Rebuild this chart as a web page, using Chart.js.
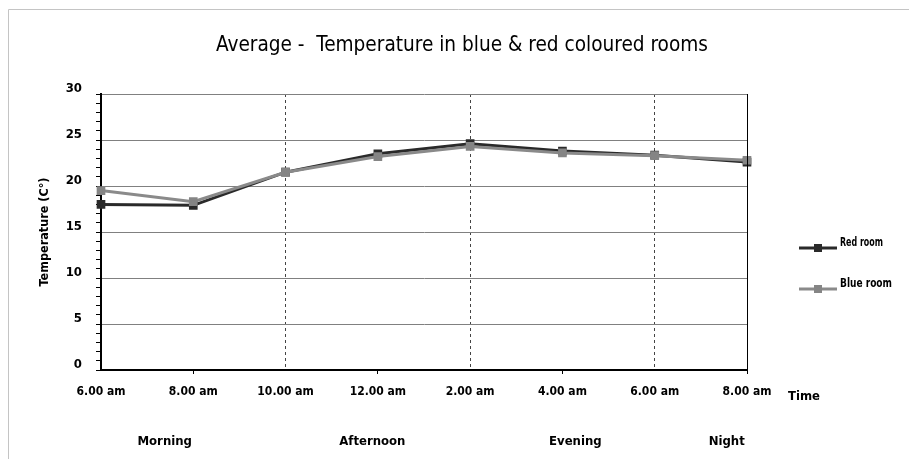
<!DOCTYPE html>
<html>
<head>
<meta charset="utf-8">
<script src="https://cdn.jsdelivr.net/npm/chart.js@4"></script>
<style>
  html, body { margin: 0; padding: 0; background: #fff; }
  #wrap { width: 909px; height: 459px; position: relative; }
</style>
</head>
<body>
<div id="wrap"><canvas id="chart" width="909" height="459"></canvas></div>
<script>
// Time of day readings
const times = ['6.00 am', '8.00 am', '10.00 am', '12.00 am', '2.00 am', '4.00 am', '6.00 am', '8.00 am'];
// Average temperature (°C) per room
const redRoom  = [18.0, 17.9, 21.5, 23.5, 24.6, 23.8, 23.35, 22.6];
const blueRoom = [19.5, 18.3, 21.5, 23.2, 24.3, 23.6, 23.3, 22.8];
// Parts of the day written under the axis
const periods = ['Morning', 'Afternoon', 'Evening', 'Night'];

const FONT = '"DejaVu Sans Condensed", "Liberation Sans", sans-serif';

// Extra labels: chart border, title, period names, axis caption and legend
const extras = {
  id: 'extras',
  beforeDraw(chart) {
    const ctx = chart.ctx;
    ctx.save();
    ctx.strokeStyle = '#c4c4c4';
    ctx.lineWidth = 1;
    ctx.beginPath();
    ctx.moveTo(8.5, 459);
    ctx.lineTo(8.5, 9.5);
    ctx.lineTo(909, 9.5);
    ctx.stroke();
    ctx.restore();
  },
  afterDraw(chart, args, opts) {
    const ctx = chart.ctx;
    const x = chart.scales.x;
    const area = chart.chartArea;
    ctx.save();
    ctx.fillStyle = '#000';
    ctx.textBaseline = 'middle';

    // title
    ctx.textAlign = 'center';
    ctx.font = '22px ' + FONT;
    ctx.fillText('Average -  Temperature in blue & red coloured rooms', 462, 45, 492);

    // parts of the day
    ctx.font = 'bold 13px ' + FONT;
    periods.forEach((p, i) => {
      ctx.fillText(p, x.getPixelForValue(opts.periodAt[i]), 442);
    });

    // x caption
    ctx.textAlign = 'left';
    ctx.font = 'bold 13px ' + FONT;
    ctx.fillText('Time', area.right + 41, 397, 32);

    // legend
    chart.data.datasets.forEach((ds, i) => {
      const ly = 248 + i * 41;
      const lx = 799;
      ctx.strokeStyle = ds.borderColor;
      ctx.lineWidth = 3;
      ctx.beginPath();
      ctx.moveTo(lx, ly);
      ctx.lineTo(lx + 38, ly);
      ctx.stroke();
      ctx.fillStyle = ds.pointBackgroundColor;
      ctx.fillRect(lx + 19 - 4, ly - 4, 8, 8);
      ctx.fillStyle = '#000';
      ctx.font = 'bold 13px ' + FONT;
      ctx.fillText(ds.label, lx + 41, ly - 5, i === 0 ? 43 : 52);
    });

    // right border of the plot
    ctx.strokeStyle = '#000';
    ctx.lineWidth = 1;
    ctx.beginPath();
    ctx.moveTo(Math.round(area.right) + 0.5, area.top);
    ctx.lineTo(Math.round(area.right) + 0.5, area.bottom);
    ctx.stroke();
    ctx.restore();
  }
};

new Chart(document.getElementById('chart'), {
  type: 'line',
  data: {
    labels: times,
    datasets: [
      {
        label: 'Red room',
        data: redRoom,
        borderColor: '#2a2a2a',
        backgroundColor: '#2a2a2a',
        pointBackgroundColor: '#2a2a2a',
        pointBorderColor: '#2a2a2a',
        borderWidth: 3,
        pointStyle: 'rect',
        pointRadius: 4,
        tension: 0,
        order: 2
      },
      {
        label: 'Blue room',
        data: blueRoom,
        borderColor: '#8a8a8a',
        backgroundColor: '#8a8a8a',
        pointBackgroundColor: '#858585',
        pointBorderColor: '#858585',
        borderWidth: 3,
        pointStyle: 'rect',
        pointRadius: 4,
        tension: 0,
        order: 1
      }
    ]
  },
  options: {
    responsive: false,
    animation: false,
    layout: { padding: { left: 0, top: 94, right: 162, bottom: 0 } },
    plugins: {
      legend: { display: false },
      title: { display: false },
      tooltip: { enabled: false },
      extras: { periodAt: [0.69, 2.94, 5.14, 6.78] }
    },
    scales: {
      x: {
        offset: false,
        afterFit(scale) { scale.height = 89; },
        grid: {
          color: (c) => (c.index === 2 || c.index === 4 || c.index === 6) ? '#444' : 'transparent',
          lineWidth: 1,
          tickColor: (c) => (c.index % 2 === 1) ? '#000' : 'transparent',
          tickLength: 4,
          tickWidth: 1
        },
        border: { display: true, color: '#000', width: 2, dash: [3, 3] },
        ticks: {
          color: '#000',
          padding: 11,
          maxRotation: 0,
          autoSkip: false,
          font: { family: FONT, size: 12, weight: 'bold' }
        }
      },
      y: {
        min: 0,
        max: 30,
        afterFit(scale) { scale.width = 101; },
        grid: {
          color: (c) => (c.tick && c.tick.value % 5 === 0 && c.tick.value !== 0) ? '#808080' : 'transparent',
          lineWidth: 1,
          tickColor: '#000',
          tickLength: 5,
          tickWidth: 1
        },
        border: { display: true, color: '#000', width: 2 },
        ticks: {
          stepSize: 1,
          autoSkip: false,
          color: '#000',
          padding: 14,
          labelOffset: -5,
          font: { family: FONT, size: 13, weight: 'bold' },
          callback: (v) => (v % 5 === 0 ? String(v) : '')
        },
        title: {
          display: true,
          text: 'Temperature (C°)',
          color: '#000',
          padding: { top: 37, bottom: 0 },
          font: { family: FONT, size: 12.5, weight: 'bold' }
        }
      }
    }
  },
  plugins: [extras]
});
</script>
</body>
</html>
